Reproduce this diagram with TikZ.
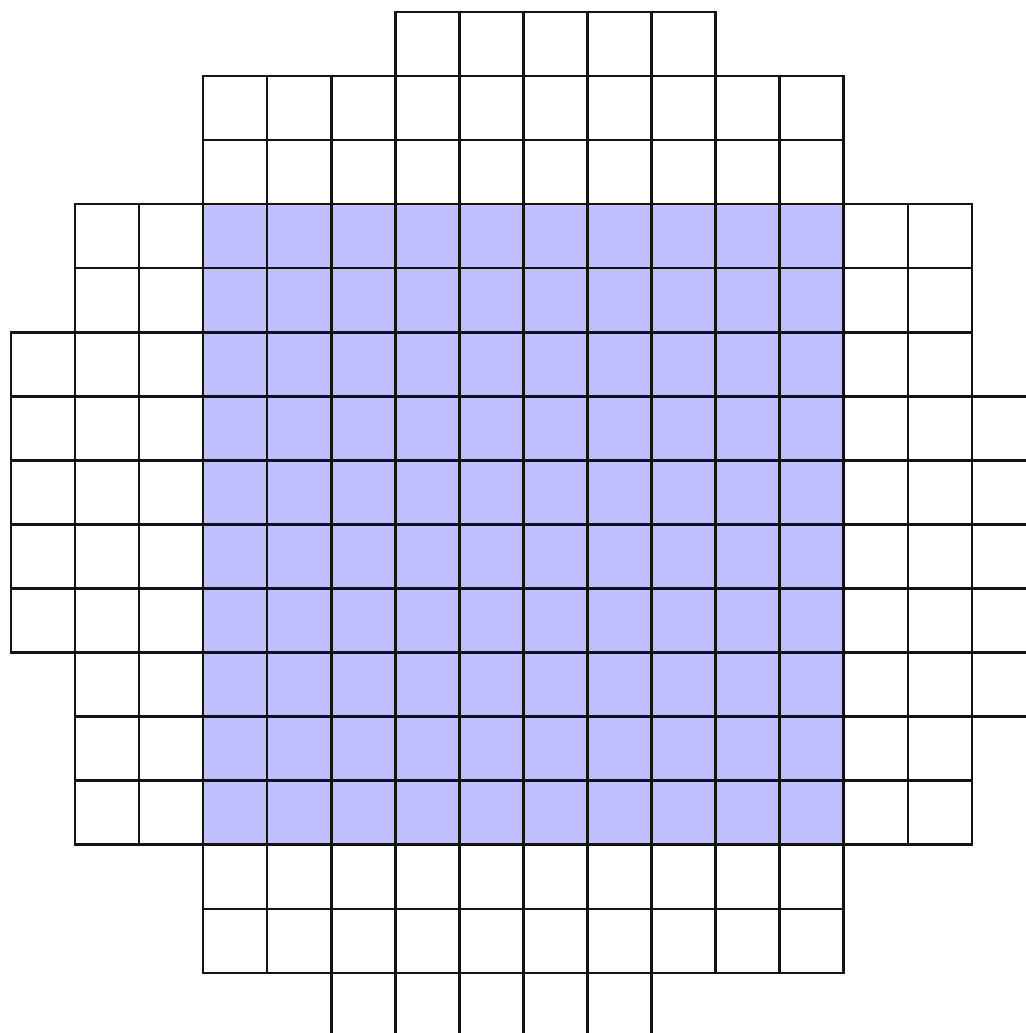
\documentclass[tikz,border=0pt]{standalone}
\definecolor{cellblue}{RGB}{192,192,255}
\definecolor{gridline}{RGB}{20,20,20}
\tikzset{
  cell/.style={draw=gridline, line width=1.1pt},
  bluecell/.style={cell, fill=cellblue}
}
\begin{document}
\begin{tikzpicture}[x=1cm,y=-1cm]
\useasboundingbox (-0.172,-0.1875) rectangle (15.844,15.94);
% row: j / first column / last column
\foreach \j/\a/\b in {0/6/10,1/3/12,2/3/12,3/1/14,4/1/14,5/0/14,6/0/15,7/0/15,8/0/15,9/0/15,10/1/15,11/1/14,12/1/14,13/3/12,14/3/12,15/5/9}{
  \foreach \i in {\a,...,\b}{
    \pgfmathtruncatemacro{\inblue}{(\i>2)&&(\i<13)&&(\j>2)&&(\j<13)}
    \ifnum\inblue=1
      \draw[bluecell] (\i,\j) rectangle ++(1,1);
    \else
      \draw[cell] (\i,\j) rectangle ++(1,1);
    \fi
  }
}
\end{tikzpicture}
\end{document}
